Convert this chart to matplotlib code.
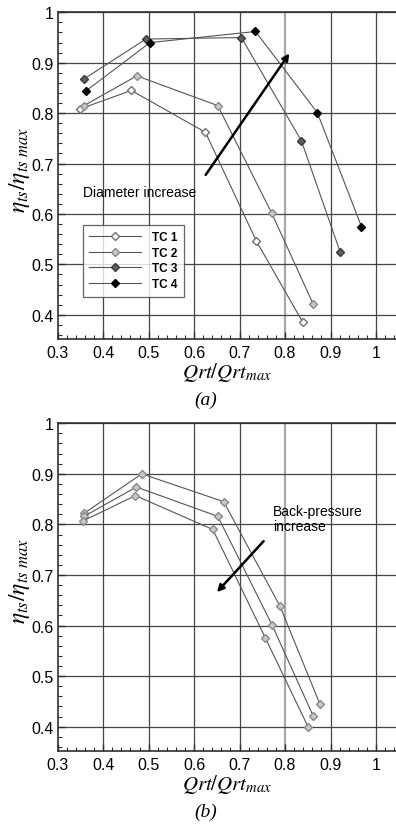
import matplotlib
matplotlib.use("Agg")
import matplotlib.pyplot as plt
from matplotlib.ticker import MultipleLocator

plt.rcParams['font.family'] = ['Liberation Sans', 'DejaVu Sans']
plt.rcParams['mathtext.fontset'] = 'stix'

# ---- data: panel (a) ----
tc1_x = [0.348, 0.462, 0.625, 0.737, 0.839]
tc1_y = [0.808, 0.845, 0.762, 0.546, 0.385]
tc2_x = [0.358, 0.474, 0.652, 0.771, 0.862]
tc2_y = [0.815, 0.874, 0.815, 0.601, 0.421]
tc3_x = [0.358, 0.494, 0.704, 0.836, 0.921]
tc3_y = [0.868, 0.947, 0.950, 0.745, 0.525]
tc4_x = [0.362, 0.503, 0.735, 0.871, 0.968]
tc4_y = [0.844, 0.940, 0.962, 0.801, 0.575]
labels_a = ["TC 1", "TC 2", "TC 3", "TC 4"]

# ---- data: panel (b) ----
bp_low_x = [0.358, 0.485, 0.665, 0.789, 0.877]
bp_low_y = [0.822, 0.900, 0.845, 0.638, 0.444]
bp_mid_x = [0.358, 0.473, 0.652, 0.771, 0.862]
bp_mid_y = [0.816, 0.874, 0.816, 0.602, 0.421]
bp_high_x = [0.356, 0.471, 0.641, 0.757, 0.851]
bp_high_y = [0.807, 0.857, 0.790, 0.575, 0.399]

xticks = [0.3, 0.4, 0.5, 0.6, 0.7, 0.8, 0.9, 1.0]
xticklabels = ["0.3", "0.4", "0.5", "0.6", "0.7", "0.8", "0.9", "1"]
yticks = [0.4, 0.5, 0.6, 0.7, 0.8, 0.9, 1.0]
yticklabels = ["0.4", "0.5", "0.6", "0.7", "0.8", "0.9", "1"]

fig = plt.figure(figsize=(3.96, 8.28), dpi=100)
ax1 = fig.add_axes([0.1457, 0.5894, 0.8543, 0.3945])
ax2 = fig.add_axes([0.1457, 0.0918, 0.8543, 0.3958])

def style(ax):
    ax.set_xlim(0.3, 1.044)
    ax.set_ylim(0.352, 1.0)
    ax.set_xticks(xticks)
    ax.set_xticklabels(xticklabels)
    ax.set_yticks(yticks)
    ax.set_yticklabels(yticklabels)
    ax.xaxis.set_minor_locator(MultipleLocator(0.02))
    ax.yaxis.set_minor_locator(MultipleLocator(0.02))
    ax.tick_params(which='major', direction='in', length=5, width=1, labelsize=11.5, color='#303030')
    ax.tick_params(which='minor', direction='in', length=3, width=0.8, color='#303030')
    ax.tick_params(axis='x', pad=4)
    ax.tick_params(axis='y', pad=3)
    ax.spines['right'].set_visible(False)
    for s in ['left', 'bottom', 'top']:
        ax.spines[s].set_color('#303030')
        ax.spines[s].set_linewidth(1.2)
    for xv in xticks[1:]:
        if abs(xv - 0.8) < 1e-9:
            ax.axvline(xv, color='#a8a8a8', lw=1.6, zorder=0)
        else:
            ax.axvline(xv, color='#454545', lw=0.9, zorder=0)
    for yv in yticks:
        ax.axhline(yv, color='#454545', lw=0.9, zorder=0)
    ax.set_xlabel(r'$Qrt/Qrt_{max}$', fontsize=15, labelpad=0)
    ax.set_ylabel(r'$\eta_{ts}/\eta_{ts\ max}$', fontsize=17)
    ax.yaxis.set_label_coords(-0.075, 0.52)

style(ax1)
style(ax2)

line_c = '#555555'
series_a = [
    (tc1_x, tc1_y, dict(mfc='white', mec='#707070', ms=4.4)),
    (tc2_x, tc2_y, dict(mfc='#c8c8c8', mec='#8a8a8a', ms=4.4)),
    (tc3_x, tc3_y, dict(mfc='#5e5e5e', mec='#3a3a3a', ms=4.4)),
    (tc4_x, tc4_y, dict(mfc='black', mec='black', ms=3.6)),
]
for (xs, ys, st), lab in zip(series_a, labels_a):
    ax1.plot(xs, ys, '-', marker='D', color=line_c, lw=0.8, label=lab, zorder=3, **st)

leg = ax1.legend(loc='lower left', bbox_to_anchor=(0.074, 0.13),
                 prop={'weight': 'bold', 'size': 8.5}, handlelength=4.4,
                 frameon=True, fancybox=False, borderpad=0.55, labelspacing=0.3,
                 handletextpad=0.9, borderaxespad=0)
leg.get_frame().set_edgecolor('#404040')
leg.get_frame().set_linewidth(0.9)

ax1.annotate('', xy=(0.813, 0.923), xytext=(0.622, 0.673),
             arrowprops=dict(arrowstyle='-|>', color='black', lw=1.8, mutation_scale=10))
ax1.text(0.356, 0.644, 'Diameter increase', fontsize=10, va='center', ha='left')

for xs, ys in [(bp_low_x, bp_low_y), (bp_mid_x, bp_mid_y), (bp_high_x, bp_high_y)]:
    ax2.plot(xs, ys, '-', marker='D', color=line_c, lw=0.8, mfc='#c8c8c8',
             mec='#8a8a8a', ms=4.4, zorder=3)

ax2.annotate('', xy=(0.646, 0.662), xytext=(0.757, 0.771),
             arrowprops=dict(arrowstyle='-|>', color='black', lw=1.8, mutation_scale=10))
ax2.text(0.774, 0.812, 'Back-pressure\nincrease', fontsize=10, va='center', ha='left',
         linespacing=1.05)

fig.text(0.52, 0.517, '(a)', fontsize=14, style='italic', family=['Liberation Serif'],
         ha='center', va='center')
fig.text(0.52, 0.019, '(b)', fontsize=14, style='italic', family=['Liberation Serif'],
         ha='center', va='center')

fig.savefig('out.png', dpi=100)
